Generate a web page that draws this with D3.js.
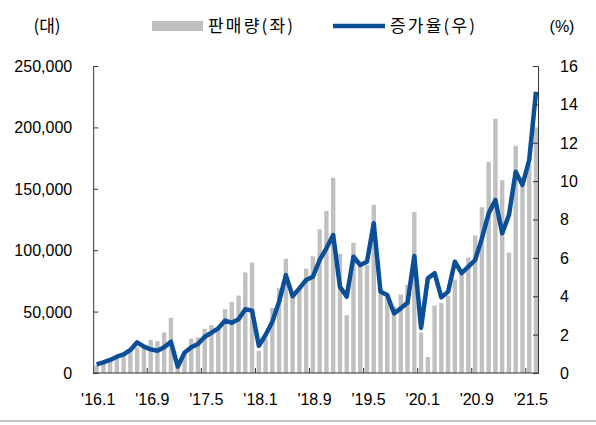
<!DOCTYPE html>
<html>
<head>
<meta charset="utf-8">
<script src="https://cdn.jsdelivr.net/npm/d3@7"></script>
<style>
	body { margin: 0; background: #fff; }
	svg text { font-family: 'Liberation Sans', Arial, 'Noto Sans CJK KR', sans-serif; fill: #000; }
	.kr { font-family: 'Noto Sans CJK KR', sans-serif; }
</style>
</head>
<body>
<div id="chart"></div>
<script>

// monthly data, '16.1 ~ '21.6
var months = [];
var years = [16, 17, 18, 19, 20, 21];
years.forEach(function (y) {
	d3.range(1, 13).forEach(function (m) {
		if (y === 21 && m > 6) return;
		months.push("'" + y + '.' + m);
	});
});

// 판매량 (대, thousands)
var sales = [6, 8, 10, 12, 15, 18, 21, 20, 27, 26, 33, 45,
	4, 17, 28, 29, 36, 39, 37, 52, 58, 63, 82, 90,
	18, 28, 53, 69, 93, 62, 68, 85, 95, 117, 132, 159,
	97, 47, 106, 88, 88, 137, 65, 62, 54, 64, 72, 131,
	33, 13, 55, 57, 63, 76, 80, 94, 112, 135, 172, 207,
	157, 98, 185, 152, 170, 200];

// 증가율 (%)
var rate = [0.45, 0.55, 0.68, 0.85, 0.97, 1.2, 1.6, 1.37, 1.23, 1.16, 1.34, 1.63,
	0.33, 1.06, 1.34, 1.51, 1.89, 2.1, 2.33, 2.73, 2.62, 2.8, 3.32, 3.25,
	1.42, 1.98, 2.67, 3.72, 5.1, 4.0, 4.41, 4.85, 5.02, 5.89, 6.5, 7.19,
	4.5, 3.98, 6.06, 5.63, 5.8, 7.8, 4.24, 4.06, 3.11, 3.37, 3.66, 6.1,
	2.35, 4.93, 5.2, 3.94, 4.24, 5.8, 5.2, 5.54, 5.89, 7.02, 8.32, 9.01,
	7.28, 8.23, 10.49, 9.8, 11.1, 14.66];

var leftTicks = [0, 50000, 100000, 150000, 200000, 250000];
var rightTicks = [0, 2, 4, 6, 8, 10, 12, 14, 16];
var xLabels = ["'16.1", "'16.9", "'17.5", "'18.1", "'18.9", "'19.5", "'20.1", "'20.9", "'21.5"];

var W = 596, H = 425;
var dim = { left: 93.2, right: 538, top: 66, bottom: 373 };
var colors = { bar: '#c0c0c0', line: '#0b4f99', axis: '#333' };

var svg = d3.select('#chart').append('svg')
	.attr('width', W)
	.attr('height', H);

var x = d3.scaleBand()
	.domain(months)
	.range([dim.left, dim.left + months.length * 6.76])
	.paddingInner(0.35)
	.paddingOuter(0.175);

var yL = d3.scaleLinear().domain([0, 250000]).range([dim.bottom, dim.top]);
var yR = d3.scaleLinear().domain([0, 16]).range([dim.bottom, dim.top]);

//bars
svg.append('g').selectAll('rect')
	.data(sales)
	.enter().append('rect')
	.attr('x', function (d, i) { return x(months[i]); })
	.attr('y', function (d) { return yL(d * 1000); })
	.attr('width', x.bandwidth())
	.attr('height', function (d) { return dim.bottom - yL(d * 1000); })
	.attr('fill', colors.bar);

//line
var line = d3.line()
	.x(function (d, i) { return x(months[i]) + x.bandwidth() / 2; })
	.y(function (d) { return yR(d); });

svg.append('path')
	.datum(rate)
	.attr('d', line)
	.attr('fill', 'none')
	.attr('stroke', colors.line)
	.attr('stroke-width', 4.5)
	.attr('stroke-linejoin', 'round');

//axes
var axisL = d3.axisLeft(yL).tickValues(leftTicks).tickSize(-5).tickPadding(21)
	.tickFormat(d3.format(','));
var axisR = d3.axisRight(yR).tickValues(rightTicks).tickSize(-5).tickPadding(22);

var gL = svg.append('g').attr('transform', 'translate(' + dim.left + ',0)').call(axisL);
var gR = svg.append('g').attr('transform', 'translate(' + dim.right + ',0)').call(axisR);

[gL, gR].forEach(function (g) {
	g.select('.domain').attr('stroke', colors.axis);
	g.selectAll('.tick line').attr('stroke', colors.axis);
	g.selectAll('.tick text').attr('font-size', 16).attr('fill', '#000')
		.attr('dy', '0.34em')
		.style('font-family', "'Liberation Sans', Arial, sans-serif");
});

//bottom axis, ticks every 8 months on band boundaries
svg.append('line')
	.attr('x1', dim.left).attr('x2', dim.right)
	.attr('y1', dim.bottom).attr('y2', dim.bottom)
	.attr('stroke', colors.axis);

xLabels.forEach(function (lab) {
	var i = months.indexOf(lab);
	var xb = x(months[i]) - x.step() * x.paddingInner() / 2;
	if (i > 0) {
		svg.append('line')
			.attr('x1', xb).attr('x2', xb)
			.attr('y1', dim.bottom).attr('y2', dim.bottom - 5)
			.attr('stroke', colors.axis);
	}
	svg.append('text')
		.attr('x', xb + 5)
		.attr('y', 405)
		.attr('text-anchor', 'middle')
		.attr('font-size', 16)
		.text(lab);
});

//units & legend
svg.append('text').attr('class', 'kr').attr('x', 47).attr('y', 32)
	.attr('text-anchor', 'middle').attr('font-size', 17).text('(대)');
svg.append('text').attr('x', 562).attr('y', 32)
	.attr('text-anchor', 'middle').attr('font-size', 16).text('(%)');

svg.append('rect')
	.attr('x', 152).attr('y', 21)
	.attr('width', 51).attr('height', 10)
	.attr('fill', colors.bar);
svg.append('text').attr('class', 'kr').attr('x', 208).attr('y', 32)
	.attr('font-size', 17).attr('letter-spacing', 2.2).text('판매량(좌)');

svg.append('line')
	.attr('x1', 333).attr('x2', 385)
	.attr('y1', 26).attr('y2', 26)
	.attr('stroke', colors.line)
	.attr('stroke-width', 4.5);
svg.append('text').attr('class', 'kr').attr('x', 390).attr('y', 32)
	.attr('font-size', 17).attr('letter-spacing', 2.2).text('증가율(우)');

//bottom rule
svg.append('line')
	.attr('x1', 0).attr('x2', W)
	.attr('y1', 421).attr('y2', 421)
	.attr('stroke', '#888');

</script>
</body>
</html>
